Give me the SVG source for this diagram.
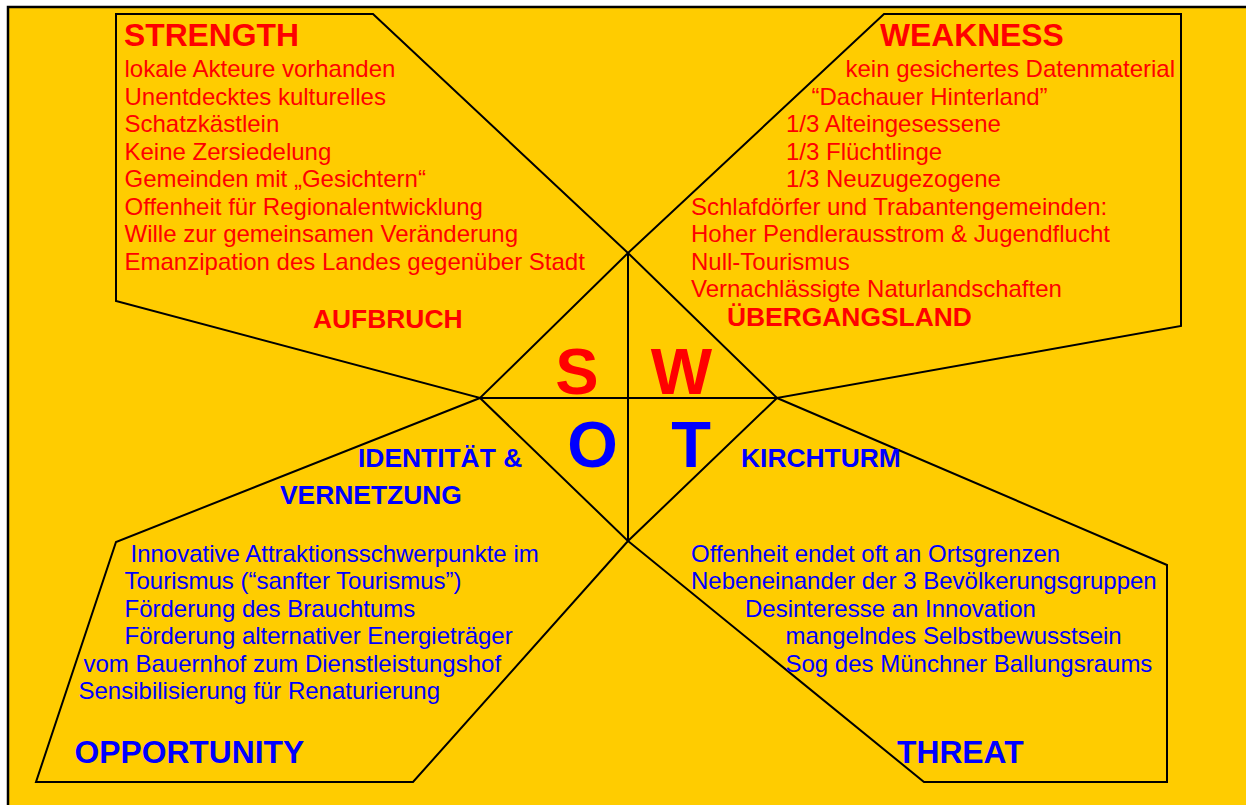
<svg xmlns="http://www.w3.org/2000/svg" width="1246" height="805" viewBox="0 0 1246 805">
<style>
text{font-family:"Liberation Sans",Arial,Helvetica,sans-serif}
.shape{fill:#FFCC00;stroke:#000;stroke-width:2;stroke-linejoin:miter}
.r{fill:#FF0000}
.b{fill:#0000FF}
.t{font-size:24px}
.h{font-size:31.8px;font-weight:bold}
.s{font-size:26.4px;font-weight:bold}
.big{font-size:65px;font-weight:bold;text-anchor:middle}
.line{stroke:#000;stroke-width:2;fill:none}
</style>
<rect x="0" y="0" width="1246" height="805" fill="#FFFFFF"/>
<rect x="8" y="7" width="1260" height="820" fill="#FFCC00" stroke="#000" stroke-width="2.5"/>

<g id="strength">
<polygon class="shape" points="116,14 373,14 628,253 480,398 116,301"/>
<text class="r h" x="124" y="46">STRENGTH</text>
<g class="r t">
<text x="124.5" y="77">lokale Akteure vorhanden</text>
<text x="124.5" y="104.5">Unentdecktes kulturelles</text>
<text x="124.5" y="132">Schatzkästlein</text>
<text x="124.5" y="159.5">Keine Zersiedelung</text>
<text x="124.5" y="187">Gemeinden mit „Gesichtern“</text>
<text x="124.5" y="214.5">Offenheit für Regionalentwicklung</text>
<text x="124.5" y="242">Wille zur gemeinsamen Veränderung</text>
<text x="124.5" y="269.5">Emanzipation des Landes gegenüber Stadt</text>
</g>
<text class="r s" x="313" y="328">AUFBRUCH</text>
</g>

<g id="weakness">
<polygon class="shape" points="884,14 1181,14 1181,326 777,398 628,253"/>
<text class="r h" x="880" y="46">WEAKNESS</text>
<g class="r t">
<text x="845.5" y="77">kein gesichertes Datenmaterial</text>
<text x="811.5" y="104.5">“Dachauer Hinterland”</text>
<text x="786" y="132">1/3 Alteingesessene</text>
<text x="786" y="159.5">1/3 Flüchtlinge</text>
<text x="786" y="187">1/3 Neuzugezogene</text>
<text x="691" y="214.5">Schlafdörfer und Trabantengemeinden:</text>
<text x="691" y="242">Hoher Pendlerausstrom &amp; Jugendflucht</text>
<text x="691" y="269.5">Null-Tourismus</text>
<text x="691" y="297">Vernachlässigte Naturlandschaften</text>
</g>
<text class="r s" x="727" y="326">ÜBERGANGSLAND</text>
</g>

<g id="opportunity">
<polygon class="shape" points="480,398 116,542 36,782 413,782 628,541"/>
<text class="b s" x="358" y="467">IDENTITÄT &amp;</text>
<text class="b s" x="280" y="504">VERNETZUNG</text>
<g class="b t">
<text x="130.5" y="561.5">Innovative Attraktionsschwerpunkte im</text>
<text x="124.5" y="589">Tourismus (“sanfter Tourismus”)</text>
<text x="124.5" y="616.5">Förderung des Brauchtums</text>
<text x="124.5" y="644">Förderung alternativer Energieträger</text>
<text x="83.5" y="671.5">vom Bauernhof zum Dienstleistungshof</text>
<text x="78.5" y="699">Sensibilisierung für Renaturierung</text>
</g>
<text class="b h" x="74.5" y="763">OPPORTUNITY</text>
</g>

<g id="threat">
<polygon class="shape" points="777,398 1167,565 1167,782 924,782 628,541"/>
<text class="b s" x="741" y="467">KIRCHTURM</text>
<g class="b t">
<text x="691" y="561.5">Offenheit endet oft an Ortsgrenzen</text>
<text x="691" y="589">Nebeneinander der 3 Bevölkerungsgruppen</text>
<text x="745" y="616.5">Desinteresse an Innovation</text>
<text x="785.5" y="644">mangelndes Selbstbewusstsein</text>
<text x="785.5" y="671.5">Sog des Münchner Ballungsraums</text>
</g>
<text class="b h" x="897" y="763">THREAT</text>
</g>

<g id="connectors">
<line class="line" x1="628" y1="253" x2="628" y2="541"/>
<line class="line" x1="480" y1="398" x2="777" y2="398"/>
</g>

<g id="center">
<text class="r big" x="577" y="394">S</text>
<text class="r big" x="681.5" y="394">W</text>
<text class="b big" x="592.5" y="467">O</text>
<text class="b big" x="691" y="467">T</text>
</g>
</svg>
